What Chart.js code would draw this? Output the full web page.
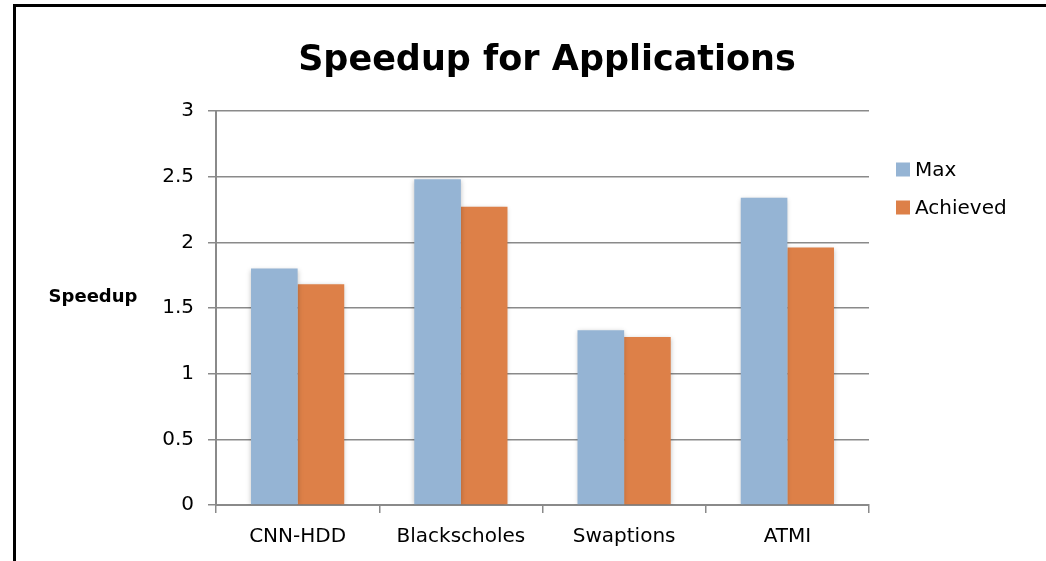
<!DOCTYPE html>
<html>
<head>
<meta charset="utf-8">
<script src="https://cdn.jsdelivr.net/npm/chart.js@4/dist/chart.umd.min.js"></script>
<style>
  html, body { margin: 0; padding: 0; background: #fff; overflow: hidden; }
  #wrap { position: absolute; left: 0; top: 0; width: 1046px; height: 561px; }
</style>
</head>
<body>
<div id="wrap"><canvas id="chart" width="1046" height="561"></canvas></div>
<script>
// Applications and their measured speedups
const categories = ['CNN-HDD', 'Blackscholes', 'Swaptions', 'ATMI'];
const maxSpeedup = [1.80, 2.48, 1.33, 2.34];
const achievedSpeedup = [1.68, 2.27, 1.28, 1.96];
const seriesNames = ['Max', 'Achieved'];
const seriesColors = ['#95b4d4', '#dd8048'];

const chartTitle = 'Speedup for Applications';
const yAxisTitle = 'Speedup';

const FONT = '"DejaVu Sans", sans-serif';
const GRID = '#8a8a8a';

// Outer frame, title, horizontal axis title and legend
const decorations = {
  id: 'decorations',
  beforeDraw(chart) {
    const ctx = chart.ctx;
    ctx.save();
    ctx.fillStyle = '#fff';
    ctx.fillRect(0, 0, chart.width, chart.height);
    ctx.strokeStyle = '#000';
    ctx.lineWidth = 3;
    ctx.beginPath();
    ctx.moveTo(14.5, chart.height + 5);
    ctx.lineTo(14.5, 5.5);
    ctx.lineTo(chart.width + 5, 5.5);
    ctx.stroke();
    ctx.restore();
  },
  beforeDatasetsDraw(chart) {
    const ctx = chart.ctx;
    ctx.save();
    ctx.shadowColor = 'rgba(0,0,0,0.25)';
    ctx.shadowBlur = 5;
    ctx.shadowOffsetX = 0;
    ctx.shadowOffsetY = 1;
  },
  afterDatasetsDraw(chart) {
    chart.ctx.restore();
  },
  afterDraw(chart) {
    const ctx = chart.ctx;
    ctx.save();
    ctx.fillStyle = '#000';
    ctx.textBaseline = 'middle';

    ctx.textAlign = 'center';
    ctx.font = 'bold 35px ' + FONT;
    ctx.fillText(chartTitle, 547, 61);

    ctx.font = 'bold 18px ' + FONT;
    ctx.fillText(yAxisTitle, 93, 297);

    ctx.textAlign = 'left';
    ctx.font = '20px ' + FONT;
    const legendY = [169.5, 207.5];
    chart.data.datasets.forEach((ds, i) => {
      ctx.fillStyle = ds.backgroundColor;
      ctx.fillRect(896, legendY[i] - 7, 14, 14);
      ctx.fillStyle = '#000';
      ctx.fillText(ds.label, 915, legendY[i] + 1);
    });
    ctx.restore();
  }
};

new Chart(document.getElementById('chart'), {
  type: 'bar',
  data: {
    labels: categories,
    datasets: [
      { label: seriesNames[0], data: maxSpeedup, backgroundColor: seriesColors[0] },
      { label: seriesNames[1], data: achievedSpeedup, backgroundColor: seriesColors[1] }
    ]
  },
  options: {
    responsive: false,
    animation: false,
    devicePixelRatio: 1,
    layout: { padding: { left: 0, right: 177, top: 111, bottom: 0 } },
    datasets: {
      bar: { categoryPercentage: 0.571, barPercentage: 1.0 }
    },
    plugins: {
      legend: { display: false },
      title: { display: false },
      tooltip: { enabled: false }
    },
    scales: {
      x: {
        afterFit(scale) { scale.height = 56; },
        grid: {
          display: true,
          offset: true,
          drawOnChartArea: false,
          drawTicks: true,
          tickLength: 8,
          color: GRID,
          lineWidth: 1.5
        },
        border: { display: true, color: GRID, width: 2 },
        ticks: { color: '#000', font: { family: FONT, size: 20 }, padding: 12 }
      },
      y: {
        min: 0,
        max: 3,
        afterFit(scale) { scale.width = 216; },
        grid: {
          color: GRID,
          lineWidth: 1.5,
          tickLength: 8,
          drawTicks: true
        },
        border: { display: true, color: GRID, width: 2 },
        ticks: {
          stepSize: 0.5,
          color: '#000',
          font: { family: FONT, size: 20 },
          padding: 14,
          callback: (value) => String(value)
        }
      }
    }
  },
  plugins: [decorations]
});
</script>
</body>
</html>
